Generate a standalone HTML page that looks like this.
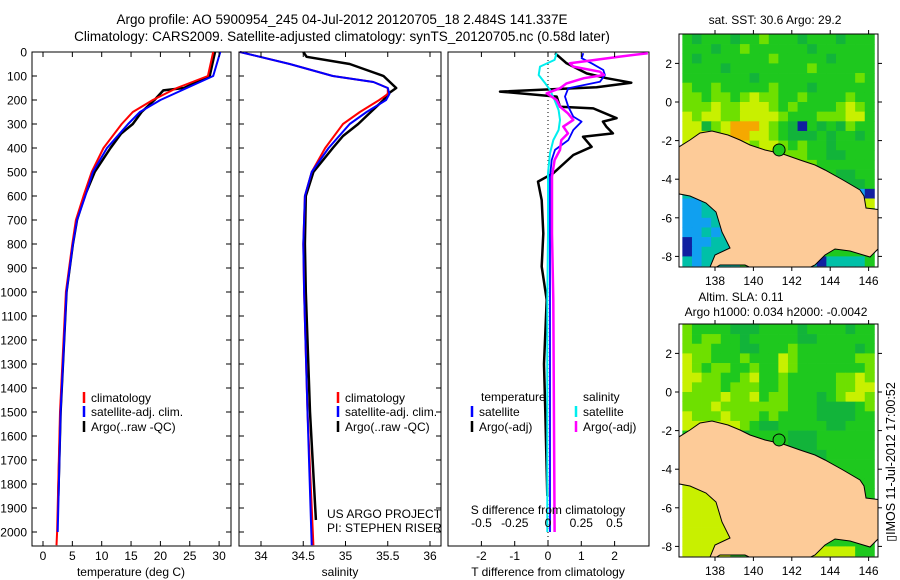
<!DOCTYPE html>
<html><head><meta charset="utf-8">
<style>
html,body{margin:0;padding:0;background:#fff;}
svg{display:block;font-family:"Liberation Sans",sans-serif;}
</style></head>
<body>
<svg id="fig" width="900" height="580" viewBox="0 0 900 580" xmlns="http://www.w3.org/2000/svg">
<text x="342" y="24" font-size="13.5" text-anchor="middle">Argo profile: AO 5900954_245 04-Jul-2012 20120705_18 2.484S 141.337E</text>
<text x="342" y="41" font-size="13.5" text-anchor="middle">Climatology: CARS2009. Satellite-adjusted climatology: synTS_20120705.nc (0.58d later)</text>
<g id="p1"></g>
<g id="p2"></g>
<g id="p3"></g>
<g id="m1"></g>
<g id="m2"></g>
<text transform="translate(895,462) rotate(-90)" font-size="12.5" text-anchor="middle">▯IMOS 11-Jul-2012 17:00:52</text>
</svg>
<script>
// ---- data ----
const depthTicks=[0,100,200,300,400,500,600,700,800,900,1000,1100,1200,1300,1400,1500,1600,1700,1800,1900,2000];
const tempTicks=[0,5,10,15,20,25,30];
const salTicks=[34,34.5,35,35.5,36];
const tdiffTicks=[-2,-1,0,1,2];
const sdiffTicks=[-0.5,-0.25,0,0.25,0.5];
const sdiffTickLabels=["-0.5","-0.25","0","0.25","0.5"];
const tClimDepth=[0,100,150,200,250,300,400,500,600,700,800,1000,1500,2000,2055];
const tClim=[29,28.1,22.8,18.7,15.3,13.4,10.3,8.3,6.9,5.6,5,3.9,2.9,2.4,2.3];
const tSatDepth=[0,100,150,200,250,300,400,500,600,700,800,1000,1500,2000];
const tSat=[30.2,29,24.5,20,16.5,14.5,10.9,8.5,7.2,5.8,5.1,4,3,2.5];
const tArgoDepth=[0,100,150,160,200,250,300,340,400,500,600,700,800,1000,1500,1850];
const tArgo=[29.3,28.4,24,20.5,19,16.8,15.3,13.3,11.5,8.8,7.1,5.8,5.1,4,3,2.6];
const sClimDepth=[0,50,100,125,150,175,200,250,300,400,500,600,800,1000,1500,2055];
const sClim=[33.75,34.34,34.85,35.33,35.5,35.5,35.4,35.17,34.97,34.76,34.6,34.52,34.5,34.51,34.55,34.62];
const sSat=[33.75,34.34,34.85,35.33,35.5,35.52,35.48,35.25,35.05,34.8,34.6,34.52,34.5,34.51,34.55,34.6];
const sArgoDepth=[0,20,50,75,100,150,175,200,250,300,350,400,500,600,800,1000,1500,1950];
const sArgo=[34.5,34.54,35.05,35.25,35.45,35.6,35.5,35.45,35.3,35.15,34.97,34.85,34.62,34.53,34.52,34.53,34.58,34.65];
const dtArgoDepth=[5,47,89,109,128,147,165,186,228,235,276,290,311,339,353,395,429,505,540,617,756,894,1033,1300,1500,1850];
const dtArgo=[0.21,0.56,1.16,1.76,2.5,1.46,-1.44,0.26,0.36,1.36,2.06,1.65,1.75,1.95,1.05,1.31,0.76,0.16,-0.3,-0.19,-0.14,-0.19,-0.04,-0.12,-0.08,-0.02];
const dtSatDepth=[5,26,47,75,96,124,151,186,228,269,290,325,367,408,450,519,617,1033,2000];
const dtSat=[1.06,1.01,1.31,1.66,1.71,1.56,0.61,0.51,0.61,0.76,1.01,0.76,0.61,0.21,0.11,0.06,0.06,0.06,0.06];
const dsArgoDepth=[5,19,47,61,82,96,109,131,151,172,200,228,256,283,311,339,367,408,450,519,756,1033,2000];
const dsArgo=[0.75,0.54,0.165,0.19,0.39,0.42,0.27,0.14,0.09,-0.01,0.065,0.09,0.15,0.19,0.115,0.15,0.1,0.09,0.05,0.03,0.03,0.04,0.05];
const dsSatDepth=[5,33,61,96,131,158,200,242,283,325,367,422,505,756,1033,2000];
const dsSat=[0.065,0.05,-0.06,-0.07,-0.02,0.015,0.05,0.08,0.09,0.08,0.04,0.015,0.0,0.0,-0.005,-0.005];
const argoLon=141.337, argoLat=-2.484;
const sstGrid=["gGgggGgglgggGgggGggg","gggGgglggggggGgggggg","gGggggggglgggggGgggg","ggggGgggggggglgggggg","gggggggGgggggggggglg","lgglggggglgggGgggggg","llgllglyllgglgggglgg","lllyllyyylglgggglylg","ylyyllyyyylggglllyyg","yyGlyoooylgGngGgGlgg","yyylyooyylgGGGgGggGg","yylllyylyylglggGgggg","lllllllyyylllggGGggg","ggggggggglllllgggggg","ggggggggggggggggGGgg","ggggggggggggggggGGGg","ccccggggggggggggGGbn","bbccgggggggggggggyyy","bbcccggggggggggggggg","bbbcccgggggggggggggg","bbcbccgggggggggggggg","nbbcccgggggggggggggg","nbccccgggggggggggggg","cbccccgggggggcnccccg"];
const slaGrid=["lggggGGGggggGggggGgg","lgllggGgggggGGgggggg","lllgggGGggglggggggGg","yllggglgggylggggggll","ylgllgglggylgggggggl","yyllgglygglgggggllyl","ylllglllgglgggggllyy","llllyllygllgggGglyyl","lllylllllllgggGGGGgl","ylllylllglggggGGGGgg","yyyyyylgGGgggggGGggg","ggggGGGggggGGGgggggg","ggggGGGggggGGGgggggg","ggggggggggggGGGggggg","gggggggggggGGGGggggg","ggggggggggggGGGggggg","yyyyyggggggggggggggg","yyyyyggggggggggggggg","yyyyyggggggggggggggg","yyyyyggggggggggggggg","yyyyyggggggggggggggg","yyyyyggggggggggggggg","yyyyyggggggggggggggg","yyyyyggggggggyyyyygg"];
const lonTicks=[138,140,142,144,146];
const latTicks=[2,0,-2,-4,-6,-8];

// ---- helpers ----
const NS="http://www.w3.org/2000/svg";
function mk(parent,tag,attrs,name,txt){const e=document.createElementNS(NS,tag);for(const k in attrs)e.setAttribute(k,attrs[k]);


if(txt!==undefined)e.textContent=txt;parent.appendChild(e);return e;}
const Y0=52, Ysc=0.24; const yD=d=>Y0+d*Ysc;
const PT=52,PB=546;
function frame(g,x0,x1){mk(g,'rect',{x:x0,y:PT,width:x1-x0,height:PB-PT,fill:'#fff',stroke:'#000','stroke-width':1},'plot-frame');}
function yTicks(g,x0,x1,labels){depthTicks.forEach(d=>{const y=yD(d);
mk(g,'line',{x1:x0,x2:x0+5,y1:y,y2:y,stroke:'#000'},'y-tick');
mk(g,'line',{x1:x1-5,x2:x1,y1:y,y2:y,stroke:'#000'},'y-tick');
if(labels)mk(g,'text',{x:x0-5,y:y+4.5,'font-size':12,'text-anchor':'end'},'y-tick-label',String(d));});}
function xTicks(g,vals,xf,labs,bottomLabels){vals.forEach((v,i)=>{const x=xf(v);
mk(g,'line',{x1:x,x2:x,y1:PT,y2:PT+5,stroke:'#000'},'x-tick');
mk(g,'line',{x1:x,x2:x,y1:PB-5,y2:PB,stroke:'#000'},'x-tick');
if(bottomLabels)mk(g,'text',{x:x,y:560,'font-size':12,'text-anchor':'middle'},'x-tick-label',labs?labs[i]:String(v));});}
function line(g,xs,ds,xf,color,w,name){const pts=xs.map((v,i)=>xf(v).toFixed(1)+','+yD(ds[i]).toFixed(1)).join(' ');
mk(g,'polyline',{points:pts,fill:'none',stroke:color,'stroke-width':w,'stroke-linejoin':'round'},name);}
function legend(g,x,y,color,label){mk(g,'line',{x1:x,x2:x,y1:y-9,y2:y+2,stroke:color,'stroke-width':2.5},'legend-swatch');
mk(g,'text',{x:x+7,y:y+1,'font-size':12},'legend-label',label);}

// ---- panel 1: temperature ----
const p1=document.getElementById('p1');
const xT=t=>43+t*5.87;
frame(p1,32,231);
line(p1,tArgo,tArgoDepth,xT,'#000',2.5,'argo-temperature-line');
line(p1,tClim,tClimDepth,xT,'#f00',2,'climatology-temperature-line');
line(p1,tSat,tSatDepth,xT,'#00f',2,'satellite-temperature-line');
yTicks(p1,32,231,true);xTicks(p1,tempTicks,xT,null,true);
mk(p1,'text',{x:131,y:576,'font-size':12,'text-anchor':'middle'},'x-axis-title','temperature (deg C)');
legend(p1,84,401,'#f00','climatology');legend(p1,84,415,'#00f','satellite-adj. clim.');legend(p1,84,430,'#000','Argo(..raw -QC)');

// ---- panel 2: salinity ----
const p2=document.getElementById('p2');
const xS=s=>261+(s-34)*84.5;
frame(p2,239,441);
line(p2,sArgo,sArgoDepth,xS,'#000',2.5,'argo-salinity-line');
line(p2,sClim,sClimDepth,xS,'#f00',2,'climatology-salinity-line');
line(p2,sSat,sClimDepth,xS,'#00f',2,'satellite-salinity-line');
yTicks(p2,239,441,false);xTicks(p2,salTicks,xS,null,true);
mk(p2,'text',{x:340,y:576,'font-size':12,'text-anchor':'middle'},'x-axis-title','salinity');
legend(p2,338,401,'#f00','climatology');legend(p2,338,415,'#00f','satellite-adj. clim.');legend(p2,338,430,'#000','Argo(..raw -QC)');
mk(p2,'text',{x:327,y:518,'font-size':12},'credit-project','US ARGO PROJECT');
mk(p2,'text',{x:327,y:532,'font-size':12},'credit-pi','PI: STEPHEN RISER');

// ---- panel 3: differences ----
const p3=document.getElementById('p3');
const xDT=v=>548+v*33.3, xDS=v=>548+v*133;
frame(p3,448,649);
mk(p3,'line',{x1:548,x2:548,y1:PT,y2:PB,stroke:'#000','stroke-dasharray':'1,3'},'zero-line');
line(p3,dtArgo,dtArgoDepth,xDT,'#000',2.5,'argo-tdiff-line');
line(p3,dtSat,dtSatDepth,xDT,'#00f',1.8,'satellite-tdiff-line');
line(p3,dsSat,dsSatDepth,xDS,'#0ee',2,'satellite-sdiff-line');
line(p3,dsArgo,dsArgoDepth,xDS,'#f0f',2.5,'argo-sdiff-line');
xTicks(p3,tdiffTicks,xDT,null,true);
sdiffTicks.forEach((v,i)=>mk(p3,'text',{x:xDS(v),y:527,'font-size':12,'text-anchor':'middle'},'sdiff-tick-label',sdiffTickLabels[i]));
mk(p3,'text',{x:548,y:514,'font-size':12,'text-anchor':'middle'},'sdiff-axis-title','S difference from climatology');
mk(p3,'text',{x:548,y:576,'font-size':12,'text-anchor':'middle'},'x-axis-title','T difference from climatology');
mk(p3,'text',{x:481,y:401,'font-size':12},'legend-heading','temperature');
mk(p3,'text',{x:583,y:401,'font-size':12},'legend-heading','salinity');
legend(p3,472,415,'#00f','satellite');legend(p3,472,430,'#000','Argo(-adj)');
legend(p3,576,415,'#0ee','satellite');legend(p3,576,430,'#f0f','Argo(-adj)');

// ---- maps ----
const COL={g:'#1ec81e',G:'#12b43a',l:'#6ee000',y:'#c8f000',o:'#f5a800',c:'#00c0a8',b:'#10a0f0',n:'#1020a0'};
function drawMap(id,grid,top,titles){const g=document.getElementById(id);
const L=679,R=878,T=top,B=top+233;const lat0y=top+68;
const xL=lon=>715+(lon-138)*19.2, yL=lat=>lat0y-lat*19.3;
titles.forEach((t,i)=>mk(g,'text',{x:t[1],y:t[2],'font-size':12,'text-anchor':'middle'},'map-title',t[0]));
const cp=mk(g,'clipPath',{id:id+'c'},'map-clip');mk(cp,'rect',{x:L,y:T,width:R-L,height:B-T},'map-clip-rect');
const inner=mk(g,'g',{'clip-path':'url(#'+id+'c)'},'map-data');
grid.forEach((row,r)=>{for(let c=0;c<row.length&&c<20;c++){
mk(inner,'rect',{x:xL(136.3+c*0.5),y:yL(3.5-r*0.5),width:10,height:10,fill:COL[row[c]]||COL.g},'map-cell');}});
const dy=top-34;
const land=[[674,150],[690,140],[700,133],[712,131],[728,135],[740,140],[750,145],[765,150],[783,154],[800,160],[815,165],[825,170],[843,180],[860,190],[864,196],[866,208],[882,210],[882,245],[870,257],[850,251],[835,249],[825,255],[815,265],[800,272],[760,272],[745,265],[720,265],[708,272],[715,255],[730,248],[722,232],[716,212],[706,203],[690,196],[674,193]];
mk(inner,'polygon',{points:land.map(p=>p[0]+','+(p[1]+dy)).join(' '),fill:'#fdcb98',stroke:'#000','stroke-width':1},'land');
mk(inner,'circle',{cx:xL(argoLon),cy:yL(argoLat),r:6,fill:'#1ec81e',stroke:'#000','stroke-width':1},'argo-location-marker');
mk(g,'rect',{x:L,y:T,width:R-L,height:B-T,fill:'none',stroke:'#000'},'map-frame');
latTicks.forEach(v=>{const y=yL(v);mk(g,'line',{x1:L-4,x2:L,y1:y,y2:y,stroke:'#000'},'lat-tick');mk(g,'line',{x1:R,x2:R+4,y1:y,y2:y,stroke:'#000'},'lat-tick');
mk(g,'text',{x:L-7,y:y+4.5,'font-size':12,'text-anchor':'end'},'lat-tick-label',String(v));});
lonTicks.forEach(v=>{const x=xL(v);mk(g,'line',{x1:x,x2:x,y1:T-4,y2:T,stroke:'#000'},'lon-tick');mk(g,'line',{x1:x,x2:x,y1:B,y2:B+4,stroke:'#000'},'lon-tick');
mk(g,'text',{x:x,y:B+18,'font-size':12,'text-anchor':'middle'},'lon-tick-label',String(v));});}
drawMap('m1',sstGrid,34,[['sat. SST: 30.6 Argo: 29.2',775,24]]);
drawMap('m2',slaGrid,324,[['Altim. SLA: 0.11',741,301],['Argo h1000: 0.034 h2000: -0.0042',776,316]]);
</script>
</body></html>
